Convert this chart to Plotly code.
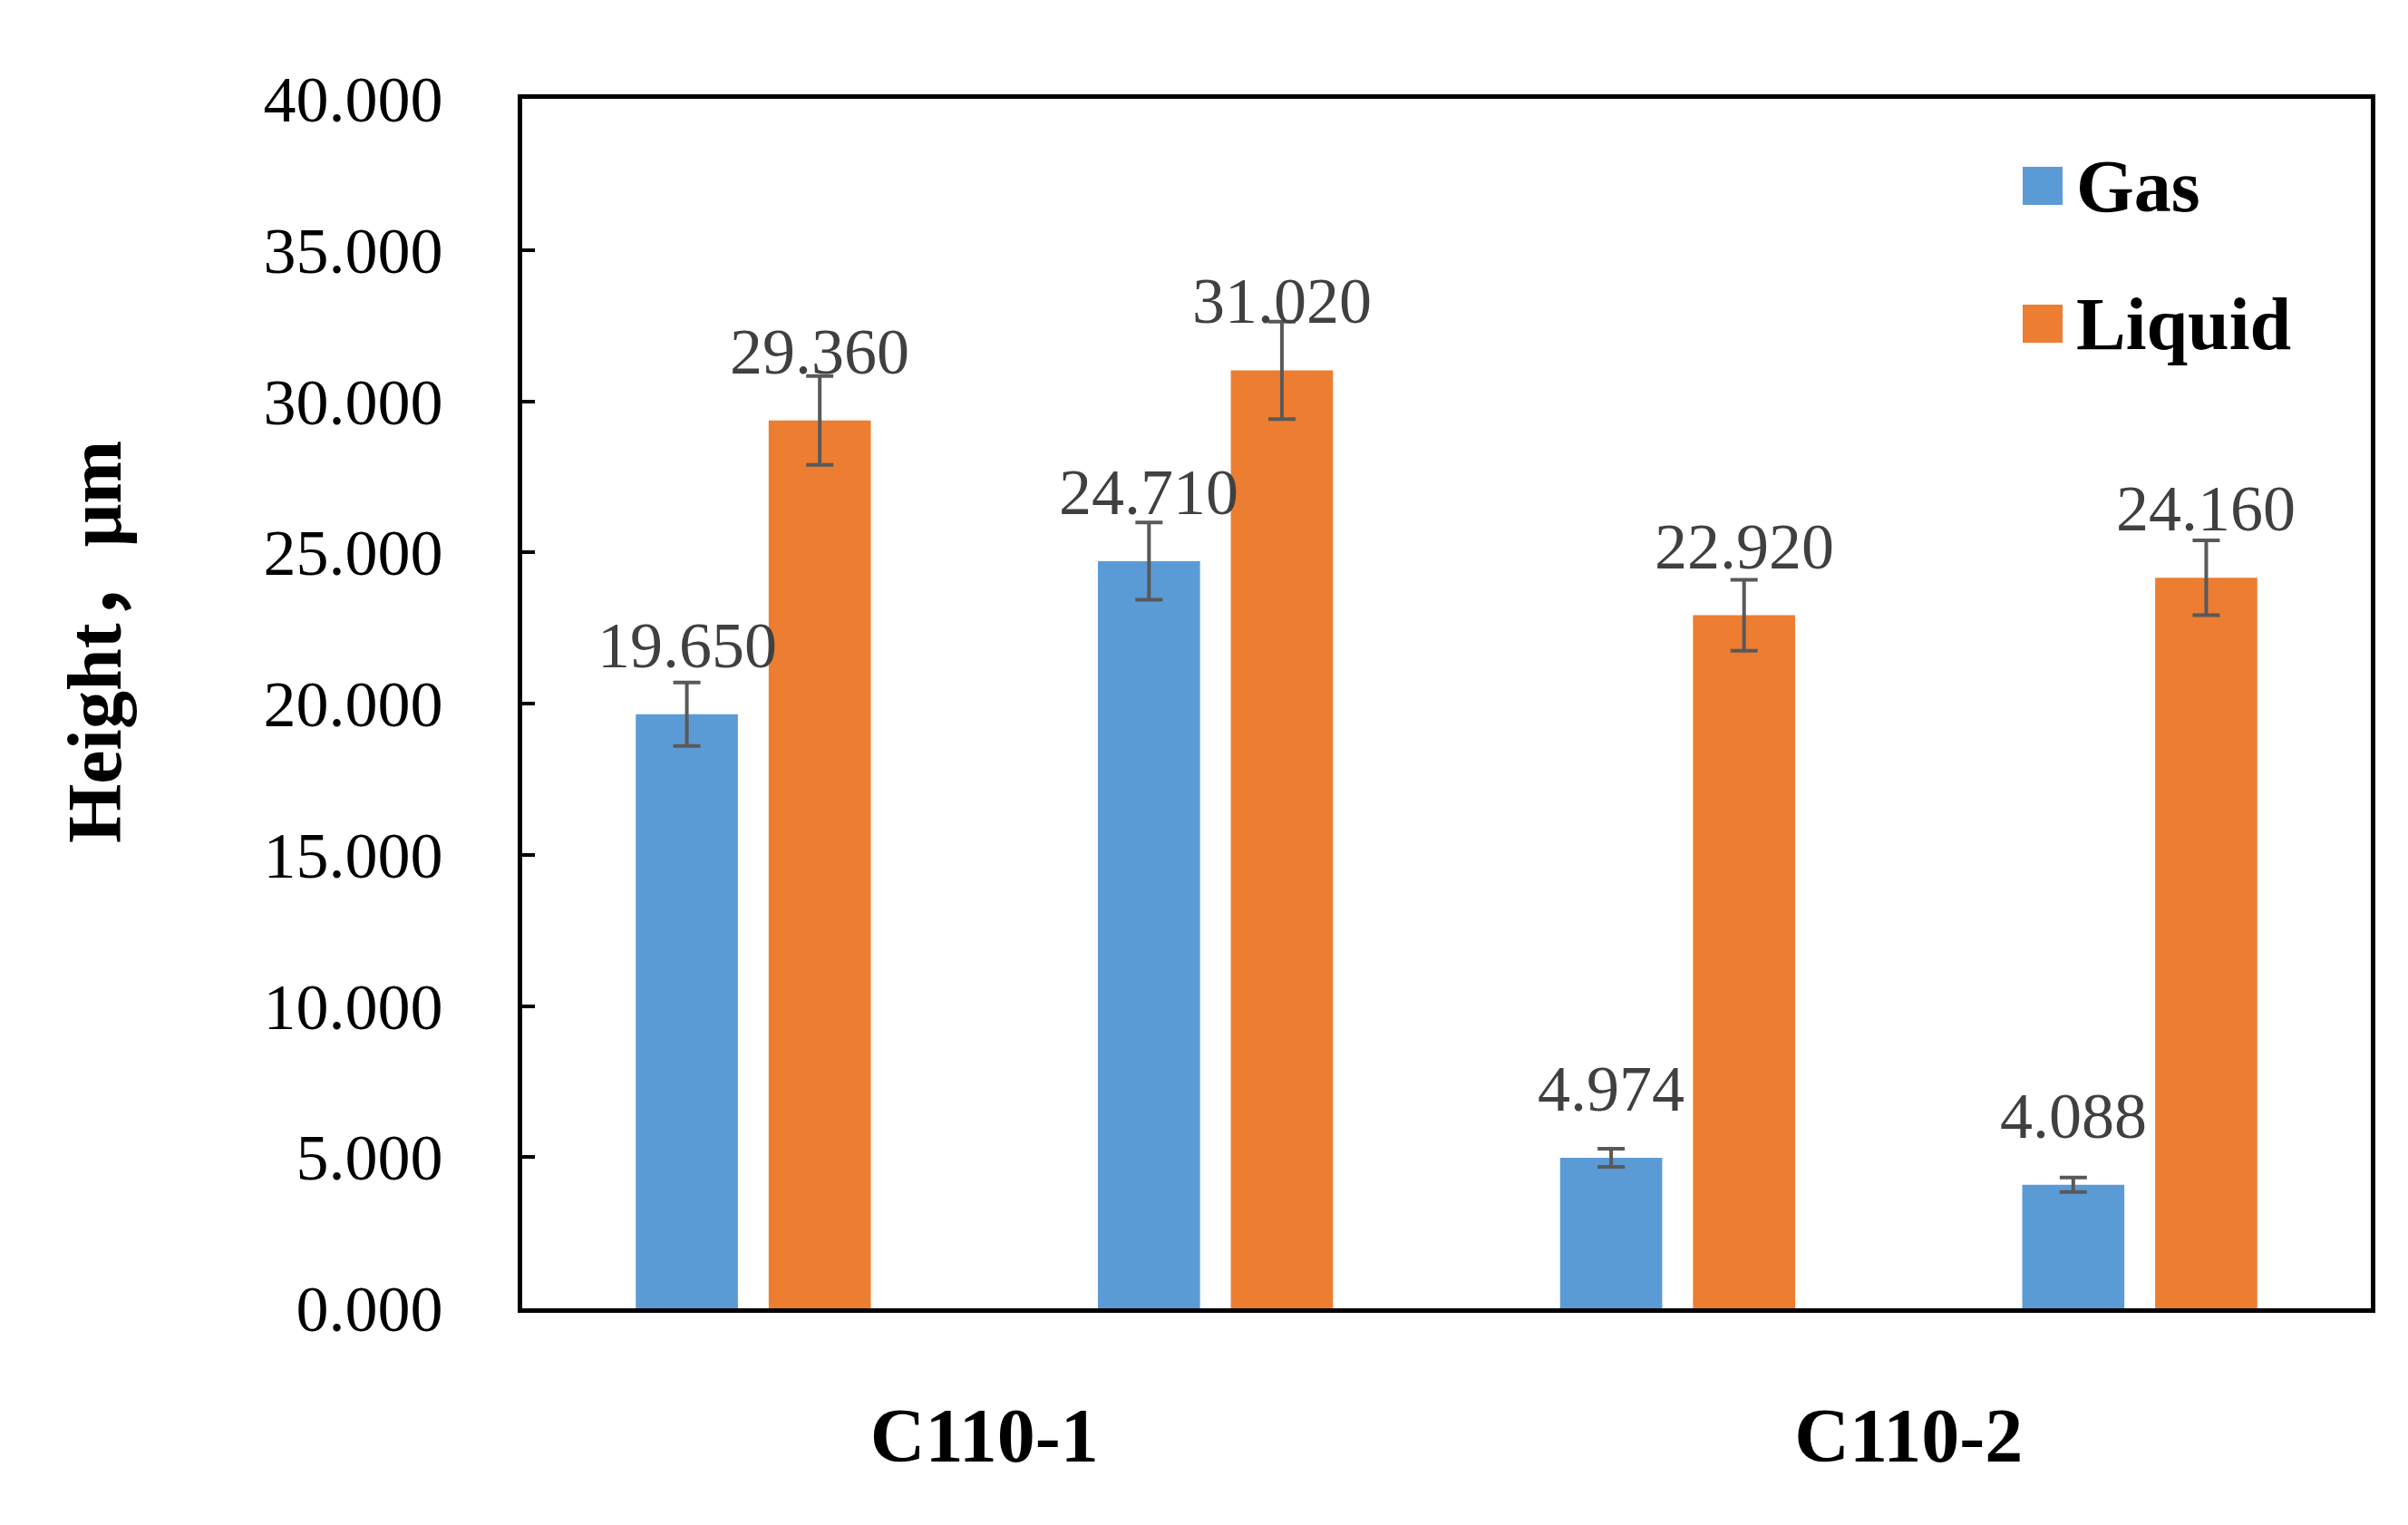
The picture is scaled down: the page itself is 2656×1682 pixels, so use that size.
import plotly.graph_objects as go

# ---- data ----
positions = [0, 1, 2, 3]
group_labels = ["C110-1", "C110-2"]
group_label_pos = [0.5, 2.5]
gas_values = [19.650, 24.710, 4.974, 4.088]
gas_errors = [1.05, 1.28, 0.30, 0.24]
liquid_values = [29.360, 31.020, 22.920, 24.160]
liquid_errors = [1.47, 1.61, 1.17, 1.24]
series_names = ["Gas", "Liquid"]
y_tick_vals = [0, 5, 10, 15, 20, 25, 30, 35, 40]
y_tick_text = [f"{v:.3f}" for v in y_tick_vals]

# ---- style ----
W, H = 2640, 1666          # page has an 8px body margin
ML, MR, MT, MB = 568, 33, 101, 231
BAR_W = 0.221
BAR_GAP = 0.0666
GAS_COLOR = "#5B9BD5"
LIQ_COLOR = "#ED7D31"
ERR_COLOR = "#595959"
LABEL_COLOR = "#404040"
SERIF = "Liberation Serif, Times New Roman, Noto Sans CJK SC, serif"

gas_offset = -BAR_W - BAR_GAP / 2
liq_offset = BAR_GAP / 2

fig = go.Figure()
fig.add_trace(go.Bar(
    x=positions, y=gas_values, name=series_names[0],
    width=BAR_W, offset=gas_offset,
    marker=dict(color=GAS_COLOR, line=dict(width=0)),
    error_y=dict(type="data", array=gas_errors, color=ERR_COLOR, thickness=4, width=15),
    showlegend=False,
))
fig.add_trace(go.Bar(
    x=positions, y=liquid_values, name=series_names[1],
    width=BAR_W, offset=liq_offset,
    marker=dict(color=LIQ_COLOR, line=dict(width=0)),
    error_y=dict(type="data", array=liquid_errors, color=ERR_COLOR, thickness=4, width=15),
    showlegend=False,
))

annotations = []
for vals, off in ((gas_values, gas_offset), (liquid_values, liq_offset)):
    for p, v in zip(positions, vals):
        annotations.append(dict(
            x=p + off + BAR_W / 2, y=v, xref="x", yref="y",
            text=f"{v:.3f}", showarrow=False, yanchor="bottom", xanchor="center",
            yshift=34, font=dict(family=SERIF, size=72, color=LABEL_COLOR),
        ))

PW, PH = W - ML - MR, H - MB - MT
def px_x(x):
    return (x - ML) / PW
def px_y(y):
    return (H - MB - y) / PH

# y-axis title
annotations.append(dict(
    x=px_x(96), y=px_y(700),
    xref="paper", yref="paper", text="<b>Height，μm</b>", textangle=-90,
    showarrow=False, xanchor="center", yanchor="middle",
    font=dict(family=SERIF, size=84, color="#000000"),
))

# manual legend
shapes = []
legend_items = [(series_names[0], GAS_COLOR, 197), (series_names[1], LIQ_COLOR, 349)]
for name, col, cy in legend_items:
    shapes.append(dict(type="rect", xref="paper", yref="paper",
                       x0=px_x(2223), x1=px_x(2267), y0=px_y(cy + 21), y1=px_y(cy - 21),
                       fillcolor=col, line=dict(width=0)))
    annotations.append(dict(
        x=px_x(2280), y=px_y(cy), xref="paper", yref="paper", text=f"<b>{name}</b>",
        showarrow=False, xanchor="left", yanchor="middle",
        font=dict(family=SERIF, size=82, color="#000000"),
    ))

fig.update_layout(
    width=W, height=H,
    margin=dict(l=ML, r=MR, t=MT, b=MB, pad=0),
    paper_bgcolor="white", plot_bgcolor="white",
    barmode="overlay",
    showlegend=False,
    annotations=annotations,
    shapes=shapes,
    xaxis=dict(
        range=[-0.5, 3.5], tickvals=group_label_pos, ticktext=[f"<b>{t}</b>" for t in group_labels],
        ticks="", showgrid=False, zeroline=False,
        showline=True, linecolor="black", linewidth=5, mirror=True,
        tickfont=dict(family=SERIF, size=84, color="#000000"),
        ticklabelstandoff=63,
    ),
    yaxis=dict(
        range=[0, 40], tickvals=y_tick_vals, ticktext=y_tick_text,
        ticks="inside", ticklen=14, tickwidth=4, tickcolor="black",
        showgrid=False, zeroline=False,
        showline=True, linecolor="black", linewidth=5, mirror=True,
        tickfont=dict(family=SERIF, size=72, color="#000000"),
        ticklabelstandoff=68,
    ),
)

fig.write_html("out.html")
